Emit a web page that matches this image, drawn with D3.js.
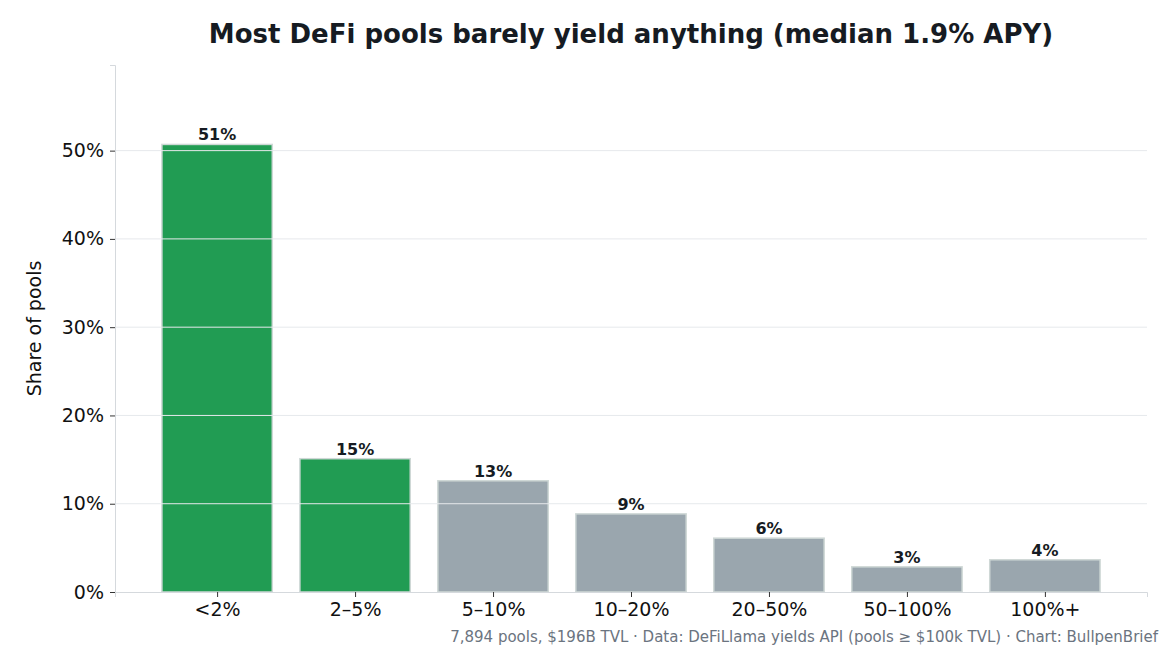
<!DOCTYPE html>
<html><head><meta charset="utf-8">
<script src="https://cdn.jsdelivr.net/npm/d3@7"></script>
<style>body{margin:0;background:#fff;font-family:"DejaVu Sans",sans-serif;}</style>
</head><body><div id="chart"></div>
<script>
const categories = ["<2%", "2–5%", "5–10%", "10–20%", "20–50%", "50–100%", "100%+"];
const shares = [50.7, 15.1, 12.6, 8.85, 6.1, 2.85, 3.65];
const highlight = [true, true, false, false, false, false, false];
const yTicks = [0, 10, 20, 30, 40, 50];

var W = 1170, H = 650;
var plotLeft = 115, plotRight = 1147, plotTop = 65, plotBottom = 592;

var svg = d3.select("#chart").append("svg")
    .attr("width", W).attr("height", H);

var x = d3.scaleLinear().domain([-0.74, categories.length - 1 + 0.74]).range([plotLeft, plotRight]);
var y = d3.scaleLinear().domain([0, 59.7]).range([plotBottom, plotTop]);
var bw = x(0.8) - x(0);

// bars
svg.selectAll("rect.bar").data(shares).enter().append("rect")
    .attr("x", (d, i) => x(i) - bw / 2)
    .attr("y", d => y(d))
    .attr("width", bw)
    .attr("height", d => plotBottom - y(d))
    .attr("fill", (d, i) => highlight[i] ? "#219c53" : "#9aa6ae")
    .attr("stroke", "#cfd8d6")
    .attr("stroke-width", 1.5);

// gridlines (on top of bars)
svg.selectAll("line.grid").data(yTicks.slice(1)).enter().append("line")
    .attr("x1", plotLeft).attr("x2", plotRight)
    .attr("y1", d => y(d)).attr("y2", d => y(d))
    .attr("stroke", "#e6e9ec").attr("stroke-width", 1);

// y axis
var yAxis = svg.append("g").attr("transform", "translate(" + plotLeft + ",0)")
    .call(d3.axisLeft(y).tickValues(yTicks).tickFormat(d => d + "%").tickSize(5).tickPadding(6));
yAxis.select(".domain").attr("stroke", "#d5d9dd");
yAxis.selectAll(".tick line").attr("stroke", "#333");
yAxis.selectAll("text").style("font-size", "19px").attr("fill", "#111")
    .style("font-family", "DejaVu Sans");

// x axis
var xAxis = svg.append("g").attr("transform", "translate(0," + plotBottom + ")")
    .call(d3.axisBottom(x).tickValues(d3.range(categories.length))
        .tickFormat(i => categories[i]).tickSize(5).tickPadding(6));
xAxis.select(".domain").attr("stroke", "#d5d9dd");
xAxis.selectAll(".tick line").attr("stroke", "#333");
xAxis.selectAll("text").style("font-size", "19px").attr("fill", "#111")
    .style("font-family", "DejaVu Sans");

// value labels
svg.selectAll("text.val").data(shares).enter().append("text")
    .attr("x", (d, i) => x(i))
    .attr("y", d => y(d) - 4)
    .attr("text-anchor", "middle")
    .style("font-size", "16px").style("font-weight", "bold").attr("fill", "#161b22")
    .text(d => Math.round(d) + "%");

// y label
svg.append("text")
    .attr("transform", "translate(41," + ((plotTop + plotBottom) / 2) + ")rotate(-90)")
    .attr("text-anchor", "middle")
    .style("font-size", "19px").attr("fill", "#111")
    .text("Share of pools");

// title
svg.append("text")
    .attr("x", 631).attr("y", 43)
    .attr("text-anchor", "middle")
    .style("font-size", "26px").style("font-weight", "bold").attr("fill", "#161b22")
    .text("Most DeFi pools barely yield anything (median 1.9% APY)");

// footer
svg.append("text")
    .attr("x", 1158).attr("y", 642)
    .attr("text-anchor", "end")
    .style("font-size", "15px").attr("fill", "#6b7480")
    .text("7,894 pools, $196B TVL · Data: DeFiLlama yields API (pools ≥ $100k TVL) · Chart: BullpenBrief");
</script>
</body></html>
